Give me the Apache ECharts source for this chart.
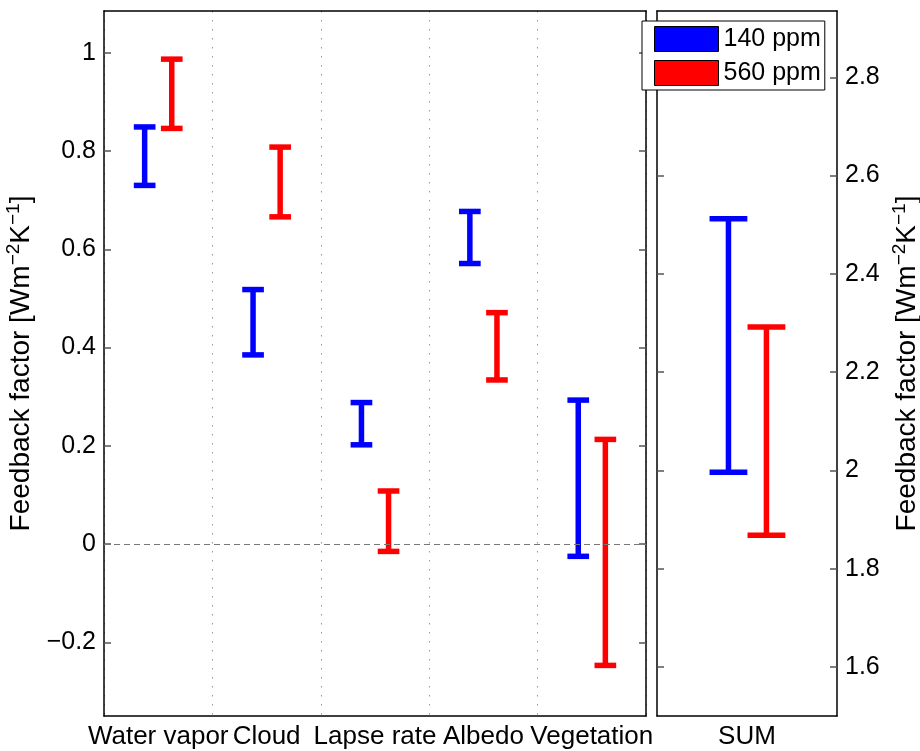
<!DOCTYPE html>
<html>
<head>
<meta charset="utf-8">
<script src="https://cdn.jsdelivr.net/npm/echarts@6/dist/echarts.min.js"></script>
<style>
  html, body { margin: 0; padding: 0; background: #fff; }
  #chart { width: 920px; height: 751px; }
</style>
</head>
<body>
<div id="chart"></div>
<script>
// Feedback components (left panel) and their sum (right panel)
const categories = ['Water vapor', 'Cloud', 'Lapse rate', 'Albedo', 'Vegetation'];
const sumCategory = ['SUM'];

// Ranges of each feedback factor [low, high]
const low140  = [0.730, 0.385, 0.202, 0.571, -0.025];
const high140 = [0.849, 0.518, 0.288, 0.677, 0.293];
const low560  = [0.846, 0.666, -0.015, 0.334, -0.247];
const high560 = [0.987, 0.808, 0.108, 0.471, 0.213];

// Range of the summed feedback factor
const sum140 = [1.996, 2.512];
const sum560 = [1.868, 2.292];

const leftTicks  = [-0.2, 0, 0.2, 0.4, 0.6, 0.8, 1];
const rightTicks = [1.6, 1.8, 2, 2.2, 2.4, 2.6, 2.8];

const FONT = 'Liberation Sans, Arial, Helvetica, sans-serif';
const BLUE = '#0000ff';
const RED = '#ff0000';

function errorBar(color, offset, capHalf) {
  return function (params, api) {
    const i = api.value(0);
    const band = api.size([1, 0])[0];
    const pLo = api.coord([i, api.value(1)]);
    const pHi = api.coord([i, api.value(2)]);
    const x = pLo[0] + offset * band;
    const c = capHalf * band;
    const style = { stroke: color, lineWidth: 5.5, fill: null };
    return {
      type: 'group',
      children: [
        { type: 'line', shape: { x1: x, y1: pLo[1], x2: x, y2: pHi[1] }, style: style },
        { type: 'line', shape: { x1: x - c, y1: pLo[1], x2: x + c, y2: pLo[1] }, style: style },
        { type: 'line', shape: { x1: x - c, y1: pHi[1], x2: x + c, y2: pHi[1] }, style: style }
      ]
    };
  };
}

const frameLine = { show: true, onZero: false, lineStyle: { color: '#000', width: 1.5 } };
const tickStyle = { color: '#555', width: 1.5 };
const minus = v => String(v).replace('-', '\u2212');

const titleName = '{a|Feedback factor [Wm}{s|\u22122}{a|K}{s|\u22121}{a|]}';
const titleStyle = {
  fontFamily: FONT,
  color: '#000',
  rich: {
    a: { fontSize: 28, fontFamily: FONT, color: '#000', verticalAlign: 'bottom' },
    s: { fontSize: 19, fontFamily: FONT, color: '#000', verticalAlign: 'bottom', padding: [0, 0, 12, 0] }
  }
};

const option = {
  animation: false,
  backgroundColor: '#fff',
  textStyle: { fontFamily: FONT },
  grid: [
    { left: 104, top: 11, width: 542, height: 705, outerBoundsMode: 'none', containLabel: false },
    { left: 657, top: 11, width: 180, height: 705, outerBoundsMode: 'none', containLabel: false }
  ],
  legend: {
    data: ['140 ppm', '560 ppm'],
    orient: 'vertical',
    left: 642,
    top: 21,
    padding: [5, 4, 4, 12],
    itemGap: 8,
    itemWidth: 64,
    itemHeight: 25,
    icon: 'rect',
    selectedMode: false,
    backgroundColor: '#fff',
    borderColor: '#000',
    borderWidth: 1,
    borderRadius: 0,
    textStyle: { fontSize: 25, color: '#000', fontFamily: FONT },
    itemStyle: { borderColor: '#000', borderWidth: 1 }
  },
  xAxis: [
    {
      gridIndex: 0, type: 'category', data: categories, position: 'bottom',
      axisLine: frameLine,
      axisTick: { inside: true, alignWithLabel: true, length: 7, lineStyle: tickStyle },
      axisLabel: { interval: 0, fontSize: 26, color: '#000', margin: 8, fontFamily: FONT },
      splitLine: { show: true, lineStyle: { color: '#999', width: 1, type: [1.5, 7.5] } }
    },
    {
      gridIndex: 0, type: 'category', data: categories, position: 'top',
      axisLine: frameLine,
      axisTick: { inside: true, alignWithLabel: true, length: 7, lineStyle: tickStyle },
      axisLabel: { show: false },
      splitLine: { show: false }
    },
    {
      gridIndex: 1, type: 'category', data: sumCategory, position: 'bottom',
      axisLine: frameLine,
      axisTick: { inside: true, alignWithLabel: true, length: 7, lineStyle: tickStyle },
      axisLabel: { interval: 0, fontSize: 26, color: '#000', margin: 8, fontFamily: FONT },
      splitLine: { show: false }
    },
    {
      gridIndex: 1, type: 'category', data: sumCategory, position: 'top',
      axisLine: frameLine,
      axisTick: { inside: true, alignWithLabel: true, length: 7, lineStyle: tickStyle },
      axisLabel: { show: false },
      splitLine: { show: false }
    }
  ],
  yAxis: [
    {
      gridIndex: 0, type: 'value', position: 'left', min: -0.35, max: 1.085,
      axisLine: frameLine,
      axisTick: { show: true, inside: true, length: 7, lineStyle: tickStyle, customValues: leftTicks },
      axisLabel: { customValues: leftTicks, formatter: minus, fontSize: 25, color: '#000', margin: 8, fontFamily: FONT },
      splitLine: { show: false },
      name: titleName, nameLocation: 'middle', nameRotate: 90, nameGap: 65,
      nameTextStyle: titleStyle
    },
    {
      gridIndex: 0, type: 'value', position: 'right', min: -0.35, max: 1.085,
      axisLine: frameLine,
      axisTick: { show: true, inside: true, length: 7, lineStyle: tickStyle, customValues: leftTicks },
      axisLabel: { show: false },
      splitLine: { show: false }
    },
    {
      gridIndex: 1, type: 'value', position: 'right', min: 1.5, max: 2.935,
      axisLine: frameLine,
      axisTick: { show: true, inside: true, length: 7, lineStyle: tickStyle, customValues: rightTicks },
      axisLabel: { customValues: rightTicks, fontSize: 25, color: '#000', margin: 8, fontFamily: FONT },
      splitLine: { show: false },
      name: titleName, nameLocation: 'middle', nameRotate: 90, nameGap: 53,
      nameTextStyle: titleStyle
    },
    {
      gridIndex: 1, type: 'value', position: 'left', min: 1.5, max: 2.935,
      axisLine: frameLine,
      axisTick: { show: true, inside: true, length: 7, lineStyle: tickStyle, customValues: rightTicks },
      axisLabel: { show: false },
      splitLine: { show: false }
    }
  ],
  series: [
    {
      name: '140 ppm', type: 'custom', xAxisIndex: 0, yAxisIndex: 0,
      itemStyle: { color: BLUE },
      renderItem: errorBar(BLUE, -0.125, 0.1),
      encode: { x: 0, y: [1, 2] },
      data: categories.map((c, i) => [i, low140[i], high140[i]]),
      markLine: {
        silent: true, symbol: ['none', 'none'], label: { show: false },
        lineStyle: { color: '#777', width: 1, type: [6, 4] },
        data: [{ yAxis: 0 }]
      },
      z: 3
    },
    {
      name: '560 ppm', type: 'custom', xAxisIndex: 0, yAxisIndex: 0,
      itemStyle: { color: RED },
      renderItem: errorBar(RED, 0.125, 0.1),
      encode: { x: 0, y: [1, 2] },
      data: categories.map((c, i) => [i, low560[i], high560[i]]),
      z: 3
    },
    {
      name: '140 ppm', type: 'custom', xAxisIndex: 2, yAxisIndex: 2,
      itemStyle: { color: BLUE },
      renderItem: errorBar(BLUE, -0.103, 0.105),
      encode: { x: 0, y: [1, 2] },
      data: [[0, sum140[0], sum140[1]]],
      z: 3
    },
    {
      name: '560 ppm', type: 'custom', xAxisIndex: 2, yAxisIndex: 2,
      itemStyle: { color: RED },
      renderItem: errorBar(RED, 0.108, 0.105),
      encode: { x: 0, y: [1, 2] },
      data: [[0, sum560[0], sum560[1]]],
      z: 3
    }
  ]
};

const chart = echarts.init(document.getElementById('chart'), null, { renderer: 'canvas' });
chart.setOption(option);
</script>
</body>
</html>
